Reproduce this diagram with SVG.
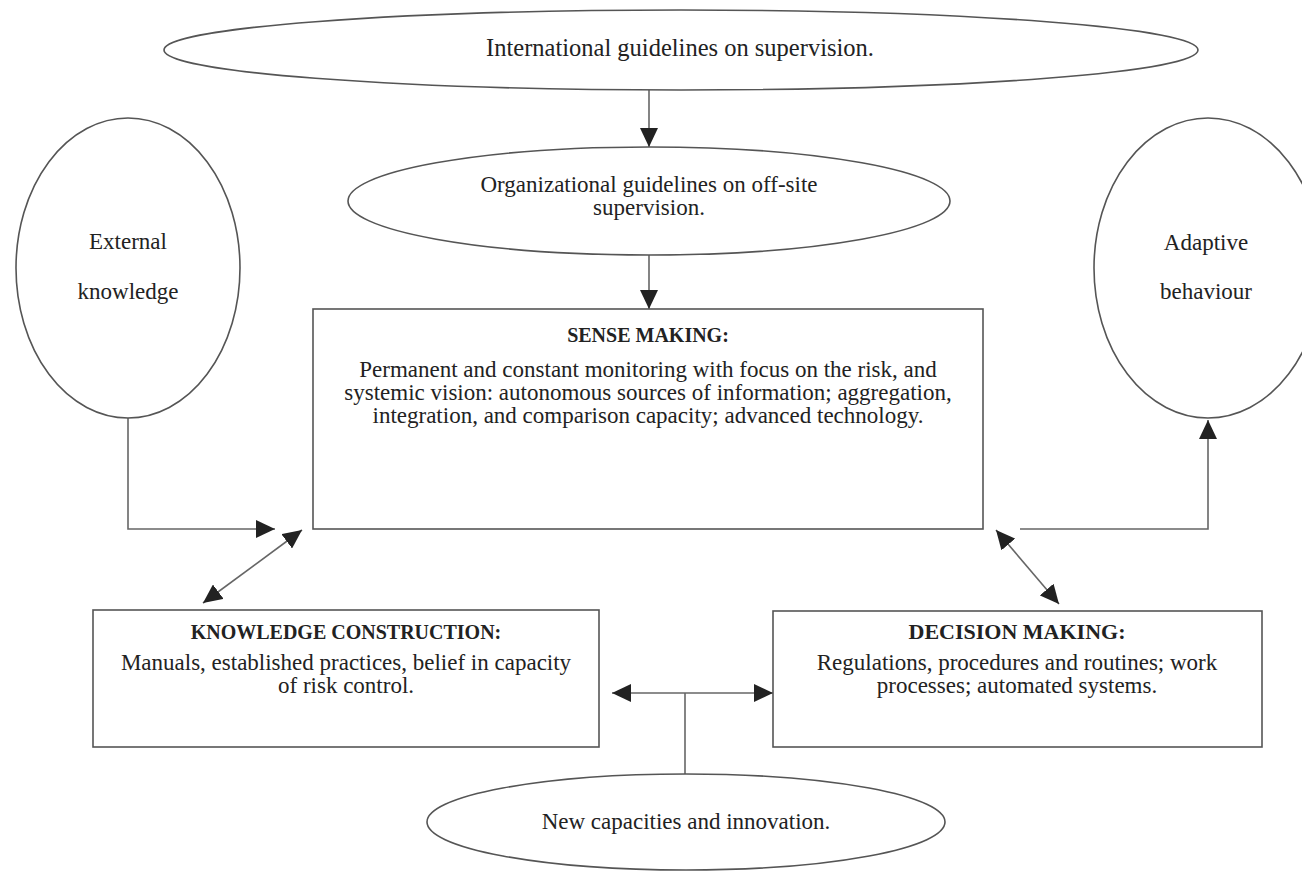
<svg xmlns="http://www.w3.org/2000/svg" width="1302" height="882" viewBox="0 0 1302 882">
  <defs>
    <style>
      .shape { fill: #ffffff; stroke: #555555; stroke-width: 1.6; }
      .link { fill: none; stroke: #666666; stroke-width: 1.6; }
      .txt { font-family: "Liberation Serif", "Times New Roman", serif; font-size: 23px; fill: #222222; text-anchor: middle; }
      .ttl { font-family: "Liberation Serif", "Times New Roman", serif; font-size: 20px; font-weight: bold; fill: #222222; text-anchor: middle; }
    </style>
    <marker id="ah" viewBox="0 0 19 18" refX="19" refY="9" markerWidth="19" markerHeight="18" orient="auto-start-reverse" markerUnits="userSpaceOnUse">
      <path d="M0,0 L19,9 L0,18 z" fill="#222222"/>
    </marker>
  </defs>

  <rect x="0" y="0" width="1302" height="882" fill="#ffffff"/>

  <!-- connectors -->
  <g id="connectors">
    <line class="link" x1="649" y1="90" x2="649" y2="147" marker-end="url(#ah)"/>
    <line class="link" x1="649" y1="255" x2="649" y2="309" marker-end="url(#ah)"/>
    <polyline class="link" points="128,418 128,529 275,529" marker-end="url(#ah)"/>
    <polyline class="link" points="1020,529 1208,529 1208,420" marker-end="url(#ah)"/>
    <line class="link" x1="302" y1="530" x2="203" y2="603" marker-start="url(#ah)" marker-end="url(#ah)"/>
    <line class="link" x1="996" y1="530" x2="1059" y2="604" marker-start="url(#ah)" marker-end="url(#ah)"/>
    <line class="link" x1="612" y1="693" x2="773" y2="693" marker-start="url(#ah)" marker-end="url(#ah)"/>
    <line class="link" x1="685" y1="693" x2="685" y2="774"/>
  </g>

  <!-- international guidelines -->
  <g id="international">
    <ellipse class="shape" cx="681" cy="50" rx="517" ry="40"/>
    <text class="txt" x="680" y="56" style="font-size:24.5px">International guidelines on supervision.</text>
  </g>

  <!-- organizational guidelines -->
  <g id="organizational">
    <ellipse class="shape" cx="649" cy="201" rx="301" ry="54"/>
    <text class="txt" x="649" y="192">Organizational guidelines on off-site</text>
    <text class="txt" x="649" y="215">supervision.</text>
  </g>

  <!-- external knowledge -->
  <g id="external">
    <ellipse class="shape" cx="128" cy="268" rx="112" ry="150"/>
    <text class="txt" x="128" y="249">External</text>
    <text class="txt" x="128" y="299">knowledge</text>
  </g>

  <!-- adaptive behaviour -->
  <g id="adaptive">
    <ellipse class="shape" cx="1208" cy="268" rx="114" ry="150"/>
    <text class="txt" x="1206" y="250">Adaptive</text>
    <text class="txt" x="1206" y="299">behaviour</text>
  </g>

  <!-- sense making -->
  <g id="sense-making">
    <rect class="shape" x="313" y="309" width="670" height="220"/>
    <text class="ttl" x="648" y="342">SENSE MAKING:</text>
    <text class="txt" x="648" y="377">Permanent and constant monitoring with focus on the risk, and</text>
    <text class="txt" x="648" y="400">systemic vision: autonomous sources of information; aggregation,</text>
    <text class="txt" x="648" y="423">integration, and comparison capacity; advanced technology.</text>
  </g>

  <!-- knowledge construction -->
  <g id="knowledge-construction">
    <rect class="shape" x="93" y="610" width="506" height="137"/>
    <text class="ttl" x="346" y="639">KNOWLEDGE CONSTRUCTION:</text>
    <text class="txt" x="346" y="670">Manuals, established practices, belief in capacity</text>
    <text class="txt" x="346" y="693">of risk control.</text>
  </g>

  <!-- decision making -->
  <g id="decision-making">
    <rect class="shape" x="773" y="611" width="489" height="136"/>
    <text class="ttl" x="1017" y="639" style="font-size:22px">DECISION MAKING:</text>
    <text class="txt" x="1017" y="670">Regulations, procedures and routines; work</text>
    <text class="txt" x="1017" y="693">processes; automated systems.</text>
  </g>

  <!-- new capacities -->
  <g id="new-capacities">
    <ellipse class="shape" cx="686" cy="822" rx="259" ry="48"/>
    <text class="txt" x="686" y="829">New capacities and innovation.</text>
  </g>
</svg>
